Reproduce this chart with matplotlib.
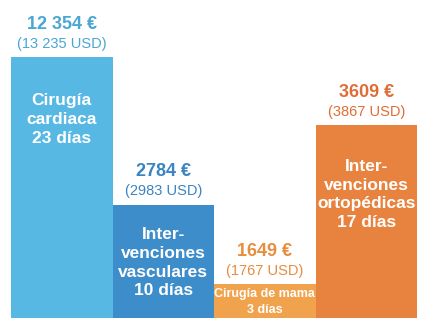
import matplotlib
matplotlib.use("Agg")
import matplotlib.pyplot as plt

plt.rcParams['font.family'] = ['Liberation Sans', 'DejaVu Sans']

# Estancia (días) y coste por tipo de intervención
procedures = ['Cirugía\ncardiaca', 'Inter-\nvenciones\nvasculares',
              'Cirugía de mama', 'Inter-\nvenciones\nortopédicas']
days = [23, 10, 3, 17]
cost_eur = ['12 354 €', '2784 €', '1649 €', '3609 €']
cost_usd = ['(13 235 USD)', '(2983 USD)', '(1767 USD)', '(3867 USD)']

bar_colors = ['#58b8e4', '#3e8dcb', '#f1a24c', '#e8833f']
label_colors = ['#4aa6d3', '#3a84c4', '#e68d3e', '#e06d36']
inner_sizes = [12.5, 12.5, 9, 12.5]
inner_spacing = [1.3, 1.3, 1.35, 1.3]
inner_drop = [45, 42, 13, 50]   # points below the bar top

fig = plt.figure(figsize=(4.28, 3.29), dpi=100)
ax = fig.add_axes([11 / 428, 11 / 329, 406 / 428, 318 / 329])

x = range(len(days))
ax.bar(x, days, width=1.0, color=bar_colors, edgecolor='none')

for i, d in enumerate(days):
    ax.annotate(cost_usd[i], (i, d), xytext=(0, 9.5), textcoords='offset points',
                ha='center', va='center', fontsize=10.5, color=label_colors[i])
    ax.annotate(cost_eur[i], (i, d), xytext=(0, 23.5), textcoords='offset points',
                ha='center', va='center', fontsize=13, fontweight='bold',
                color=label_colors[i])
    ax.annotate(f'{procedures[i]}\n{d} días', (i, d), xytext=(0, -inner_drop[i]),
                textcoords='offset points', ha='center', va='center',
                fontsize=inner_sizes[i], fontweight='bold', color='white',
                linespacing=inner_spacing[i])

ax.set_xlim(-0.5, len(days) - 0.5)
ax.set_ylim(0, 318 / 11.35)
ax.axis('off')

fig.savefig('out.png', dpi=100)
